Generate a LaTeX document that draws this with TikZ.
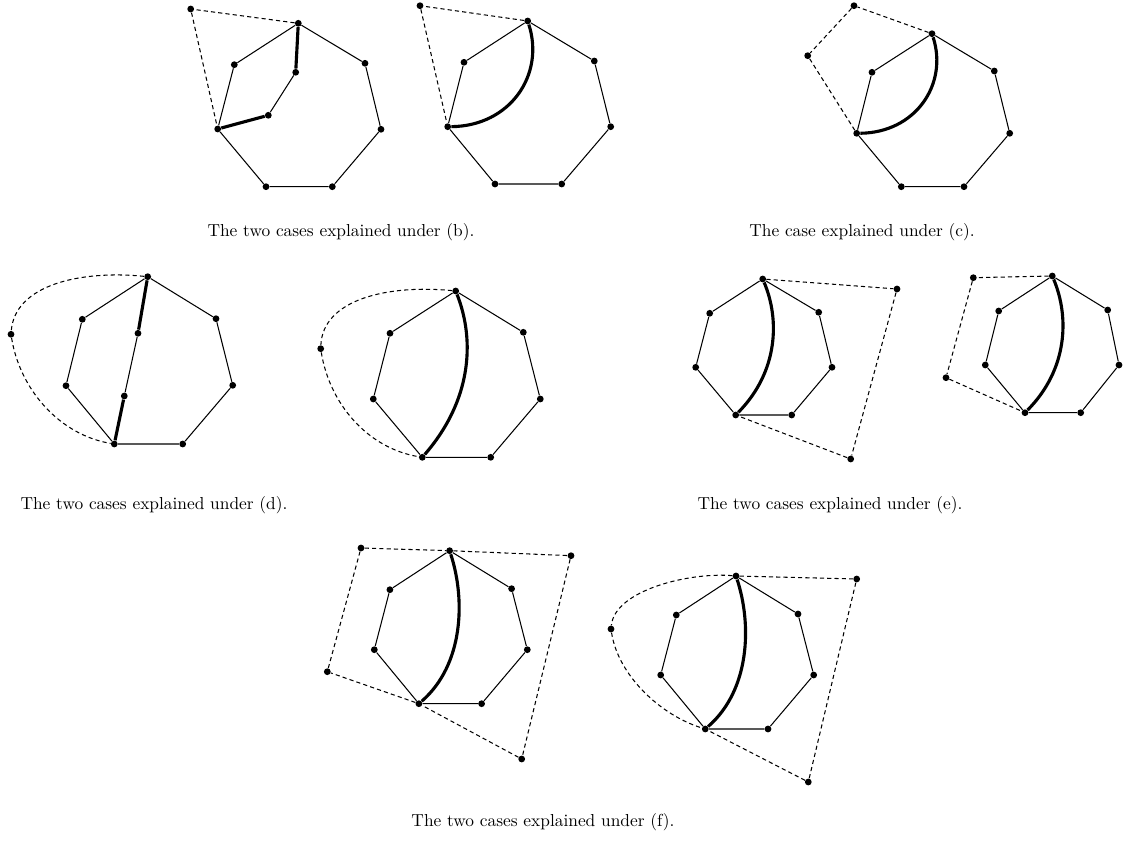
\documentclass[tikz,border=0pt]{standalone}
\begin{document}
\begin{tikzpicture}[x=0.576pt,y=-0.576pt,
  dot/.style={circle,fill=black,inner sep=0pt,minimum size=3.9pt},
  edge/.style={line width=0.6pt},
  heavy/.style={line width=1.8pt},
  dline/.style={line width=0.6pt,dash pattern=on 2.4pt off 1.8pt},
  capt/.style={font=\normalsize}]
\useasboundingbox (0,0) rectangle (1123,844);
% ---------- B1
\node[dot] (b1d) at (190.7,9) {};
\node[dot] (b1v0) at (298.3,23.3) {};
\node[dot] (b1v1) at (234.3,64.7) {};
\node[dot] (b1v2) at (217.7,129) {};
\node[dot] (b1v3) at (266,186.7) {};
\node[dot] (b1v4) at (332.3,186.7) {};
\node[dot] (b1v5) at (381,129.3) {};
\node[dot] (b1v6) at (365,63.3) {};
\node[dot] (b1a) at (295.7,72.3) {};
\node[dot] (b1b) at (268.3,115.3) {};
\draw[edge] (b1v0)--(b1v1)--(b1v2)--(b1v3)--(b1v4)--(b1v5)--(b1v6)--(b1v0);
\draw[heavy] (b1v0)--(b1a);
\draw[edge] (b1a)--(b1b);
\draw[heavy] (b1b)--(b1v2);
\draw[dline] (b1v0)--(b1d)--(b1v2);
% ---------- B2
\node[dot] (b2d) at (420,5.7) {};
\node[dot] (b2v0) at (527.7,21) {};
\node[dot] (b2v1) at (464,62.3) {};
\node[dot] (b2v2) at (447.7,126.7) {};
\node[dot] (b2v3) at (495,184) {};
\node[dot] (b2v4) at (561.7,184) {};
\node[dot] (b2v5) at (610.7,126.7) {};
\node[dot] (b2v6) at (594.3,61) {};
\draw[edge] (b2v0)--(b2v1)--(b2v2)--(b2v3)--(b2v4)--(b2v5)--(b2v6)--(b2v0);
\draw[heavy] (b2v0) .. controls (545,75) and (510,126) .. (b2v2);
\draw[dline] (b2v0)--(b2d)--(b2v2);
% ---------- C
\node[dot] (cd1) at (854,5.7) {};
\node[dot] (cd2) at (807.7,55.7) {};
\node[dot] (cv0) at (932,33.7) {};
\node[dot] (cv1) at (872,72.3) {};
\node[dot] (cv2) at (856.7,133.3) {};
\node[dot] (cv3) at (901.3,186.7) {};
\node[dot] (cv4) at (964,186.7) {};
\node[dot] (cv5) at (1009.7,133.3) {};
\node[dot] (cv6) at (994.3,71) {};
\draw[edge] (cv0)--(cv1)--(cv2)--(cv3)--(cv4)--(cv5)--(cv6)--(cv0);
\draw[heavy] (cv0) .. controls (948.3,84.5) and (915.3,132.6) .. (cv2);
\draw[dline] (cv0)--(cd1)--(cd2)--(cv2);
% ---------- D1
\node[dot] (d1d) at (11,334.3) {};
\node[dot] (d1v0) at (147.7,276.7) {};
\node[dot] (d1v1) at (82.3,319.3) {};
\node[dot] (d1v2) at (66,385.7) {};
\node[dot] (d1v3) at (114.3,444) {};
\node[dot] (d1v4) at (182.7,444) {};
\node[dot] (d1v5) at (232.7,385.3) {};
\node[dot] (d1v6) at (216,318.7) {};
\node[dot] (d1a) at (138,333.3) {};
\node[dot] (d1b) at (124.3,396) {};
\draw[edge] (d1v0)--(d1v1)--(d1v2)--(d1v3)--(d1v4)--(d1v5)--(d1v6)--(d1v0);
\draw[heavy] (d1v0)--(d1a);
\draw[edge] (d1a)--(d1b);
\draw[heavy] (d1b)--(d1v3);
\draw[dline] (d1v0) .. controls (80,270) and (15,285) .. (d1d);
\draw[dline] (d1d) .. controls (20,390) and (60,435) .. (d1v3);
% ---------- D2
\node[dot] (d2d) at (320.7,348.7) {};
\node[dot] (d2v0) at (455.7,291) {};
\node[dot] (d2v1) at (390,333.3) {};
\node[dot] (d2v2) at (373.3,399) {};
\node[dot] (d2v3) at (422.3,457.3) {};
\node[dot] (d2v4) at (490.7,457.3) {};
\node[dot] (d2v5) at (540.3,399) {};
\node[dot] (d2v6) at (523.3,332.3) {};
\draw[edge] (d2v0)--(d2v1)--(d2v2)--(d2v3)--(d2v4)--(d2v5)--(d2v6)--(d2v0);
\draw[heavy] (d2v0) .. controls (475,340) and (472,400) .. (d2v3);
\draw[dline] (d2v0) .. controls (388,284.3) and (323,299.3) .. (d2d);
\draw[dline] (d2d) .. controls (329.7,404.4) and (368,448.3) .. (d2v3);
% ---------- E1
\node[dot] (e1v0) at (762.7,279) {};
\node[dot] (e1v1) at (709.7,313.3) {};
\node[dot] (e1v2) at (695.7,367.3) {};
\node[dot] (e1v3) at (735.7,415) {};
\node[dot] (e1v4) at (791.7,415) {};
\node[dot] (e1v5) at (832,367.3) {};
\node[dot] (e1v6) at (818.7,312.3) {};
\node[dot] (e1d1) at (897,289) {};
\node[dot] (e1d2) at (850.7,459) {};
\draw[edge] (e1v0)--(e1v1)--(e1v2)--(e1v3)--(e1v4)--(e1v5)--(e1v6)--(e1v0);
\draw[heavy] (e1v0) .. controls (780,320) and (778,372) .. (e1v3);
\draw[dline] (e1v0)--(e1d1)--(e1d2)--(e1v3);
% ---------- E2
\node[dot] (e2d1) at (973.3,277.7) {};
\node[dot] (e2v0) at (1052.3,276) {};
\node[dot] (e2v1) at (998.7,311) {};
\node[dot] (e2v2) at (985.3,365) {};
\node[dot] (e2v3) at (1025,412.7) {};
\node[dot] (e2v4) at (1080.7,412.7) {};
\node[dot] (e2v5) at (1119,365) {};
\node[dot] (e2v6) at (1107.7,310) {};
\node[dot] (e2d2) at (946,377.7) {};
\draw[edge] (e2v0)--(e2v1)--(e2v2)--(e2v3)--(e2v4)--(e2v5)--(e2v6)--(e2v0);
\draw[heavy] (e2v0) .. controls (1069.6,317.5) and (1067.6,369.5) .. (e2v3);
\draw[dline] (e2v0)--(e2d1)--(e2d2)--(e2v3);
% ---------- F1
\node[dot] (f1d1) at (361,548) {};
\node[dot] (f1d2) at (571,555.7) {};
\node[dot] (f1d3) at (327.3,671.7) {};
\node[dot] (f1d4) at (521.7,759) {};
\node[dot] (f1v0) at (449.6,550.7) {};
\node[dot] (f1v1) at (389.9,589.7) {};
\node[dot] (f1v2) at (374.3,649.7) {};
\node[dot] (f1v3) at (418.9,703.7) {};
\node[dot] (f1v4) at (481.6,703.7) {};
\node[dot] (f1v5) at (527.3,649.7) {};
\node[dot] (f1v6) at (511.6,588.7) {};
\draw[edge] (f1v0)--(f1v1)--(f1v2)--(f1v3)--(f1v4)--(f1v5)--(f1v6)--(f1v0);
\draw[heavy] (f1v0) .. controls (465.6,599.7) and (463.6,664.7) .. (f1v3);
\draw[dline] (f1d1)--(f1v0)--(f1d2)--(f1d4)--(f1v3)--(f1d3)--(f1d1);
% ---------- F2
\node[dot] (f2v0) at (736,576) {};
\node[dot] (f2d1) at (856.7,579) {};
\node[dot] (f2d2) at (611,629) {};
\node[dot] (f2v1) at (676.3,615) {};
\node[dot] (f2v2) at (660.7,675) {};
\node[dot] (f2v3) at (705.3,729) {};
\node[dot] (f2v4) at (768,729) {};
\node[dot] (f2v5) at (813.7,675) {};
\node[dot] (f2v6) at (798,614) {};
\node[dot] (f2d3) at (808.3,782) {};
\draw[edge] (f2v0)--(f2v1)--(f2v2)--(f2v3)--(f2v4)--(f2v5)--(f2v6)--(f2v0);
\draw[heavy] (f2v0) .. controls (752,625) and (750,690) .. (f2v3);
\draw[dline] (f2v0) .. controls (690,572) and (615,590) .. (f2d2);
\draw[dline] (f2d2) .. controls (618,675) and (660,715) .. (f2v3);
\draw[dline] (f2v0)--(f2d1)--(f2d3)--(f2v3);
% ---------- captions
\node[capt] (capb) at (341,232) {The two cases explained under (b).};
\node[capt] (capc) at (862,232) {The case explained under (c).};
\node[capt] (capd) at (154,505) {The two cases explained under (d).};
\node[capt] (cape) at (830,505) {The two cases explained under (e).};
\node[capt] (capf) at (543,822) {The two cases explained under (f).};
\end{tikzpicture}
\end{document}
